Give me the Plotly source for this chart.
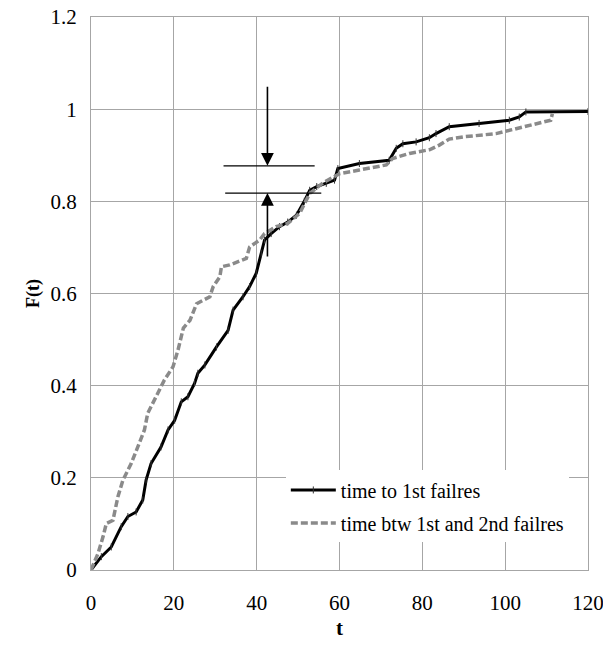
import plotly.graph_objects as go

# time to 1st failures (empirical CDF)
t1 = [0, 2.5, 4.9, 7.3, 8.9, 10.9, 12.5, 13.3, 14.5, 16.9, 18.6, 20.2, 21.8, 23.4, 25.0, 25.8,
      27.5, 30.3, 33.1, 34.3, 36.7, 38.3, 39.9, 41.1, 41.9, 43.5, 45.5, 47.5, 49.6, 51.5, 52.8,
      54.5, 56.8, 58.8, 59.6, 64.8, 72.0, 73.7, 75.3, 78.5, 81.7, 83.3, 86.5, 93.7, 101.0, 103.4,
      105.0, 120.0]
F1 = [0, 0.029, 0.05, 0.094, 0.116, 0.126, 0.152, 0.195, 0.231, 0.267, 0.304, 0.325, 0.365, 0.376,
      0.405, 0.427, 0.445, 0.484, 0.52, 0.564, 0.593, 0.615, 0.644, 0.687, 0.716, 0.73, 0.745, 0.755,
      0.77, 0.8, 0.824, 0.832, 0.839, 0.846, 0.871, 0.882, 0.889, 0.915, 0.925, 0.929, 0.938, 0.947,
      0.962, 0.969, 0.976, 0.983, 0.994, 0.995]

# time between 1st and 2nd failures
t2 = [0, 1.7, 2.9, 3.7, 5.3, 6.5, 7.7, 9.7, 11.3, 12.9, 13.7, 16.1, 17.7, 19.8, 21.0, 22.3, 23.9,
      25.5, 28.7, 29.5, 31.1, 31.5, 33.5, 37.5, 38.3, 40.7, 41.9, 44.7, 47.5, 50.4, 52.8, 56.0, 60.0,
      64.8, 71.3, 72.8, 76.9, 81.7, 84.1, 86.5, 90.0, 97.8, 102.6, 108.2, 111.0, 111.4]
F2 = [0, 0.036, 0.072, 0.101, 0.108, 0.159, 0.195, 0.231, 0.267, 0.304, 0.34, 0.383, 0.412, 0.441,
      0.477, 0.525, 0.542, 0.578, 0.593, 0.615, 0.636, 0.658, 0.662, 0.676, 0.701, 0.716, 0.73, 0.745,
      0.752, 0.774, 0.817, 0.84, 0.86, 0.868, 0.879, 0.893, 0.904, 0.912, 0.922, 0.935, 0.94, 0.947,
      0.958, 0.969, 0.976, 0.99]

x_ticks = [0, 20, 40, 60, 80, 100, 120]
y_ticks = [0, 0.2, 0.4, 0.6, 0.8, 1.0, 1.2]
y_labels = ["0", "0.2", "0.4", "0.6", "0.8", "1", "1.2"]

names = ["time to 1st failres", "time btw 1st and 2nd failres"]

# annotation marks (gap between curves)
gap_x = 42.6
gap_hi, gap_lo = 0.877, 0.818

font = "Times New Roman"
grid = "#a6a6a6"

fig = go.Figure()
fig.add_trace(go.Scatter(
    x=t1, y=F1, name=names[0], mode="lines+markers", legendgroup="a",
    line=dict(color="black", width=3),
    marker=dict(symbol="line-ns", size=5, line=dict(color="#333333", width=1)),
))
fig.add_trace(go.Scatter(
    x=t2, y=F2, name=names[1], mode="lines", legendgroup="b",
    line=dict(color="#8a8a8a", width=3.5, dash="7px,3px"),
))

# horizontal reference lines
fig.add_shape(type="line", xref="x", yref="y", x0=32.0, x1=54.0, y0=gap_hi, y1=gap_hi,
              line=dict(color="black", width=1.3))
fig.add_shape(type="line", xref="x", yref="y", x0=32.4, x1=55.6, y0=gap_lo, y1=gap_lo,
              line=dict(color="black", width=1.3))
# arrows
fig.add_annotation(x=gap_x, y=gap_hi, ax=gap_x, ay=1.052, xref="x", yref="y", axref="x", ayref="y",
                   showarrow=True, arrowhead=2, arrowsize=1.6, arrowwidth=1.6, arrowcolor="black", text="")
fig.add_annotation(x=gap_x, y=gap_lo, ax=gap_x, ay=0.677, xref="x", yref="y", axref="x", ayref="y",
                   showarrow=True, arrowhead=2, arrowsize=1.6, arrowwidth=1.6, arrowcolor="black", text="")

fig.update_layout(
    width=603, height=656,
    margin=dict(l=91, r=15, t=17, b=86, autoexpand=False),
    paper_bgcolor="white", plot_bgcolor="white",
    font=dict(family=font, size=21, color="black"),
    showlegend=True,
    legend=dict(x=0.392, y=0.18, xanchor="left", yanchor="top", bgcolor="white",
                font=dict(family=font, size=20, color="black"), itemwidth=45,
                tracegroupgap=4),
    xaxis=dict(range=[0, 120], tickvals=x_ticks, showgrid=True, gridcolor=grid, gridwidth=1,
               showline=True, linecolor=grid, mirror=True, zeroline=False, ticks="",
               automargin=False, ticklabelstandoff=14, ticklabeloverflow="allow",
               tickfont=dict(family=font, size=21),
               title=dict(text="<b>t</b>", font=dict(family=font, size=21), standoff=6)),
    yaxis=dict(range=[0, 1.2], tickvals=y_ticks, ticktext=y_labels, showgrid=True, gridcolor=grid,
               gridwidth=1, showline=True, linecolor=grid, mirror=True, zeroline=False, ticks="",
               automargin=False, ticklabelstandoff=9, ticklabeloverflow="allow",
               tickfont=dict(family=font, size=21),
               title=dict(text="<b>F(t)</b>", font=dict(family=font, size=18), standoff=6)),
)

fig.write_html("out.html", config={"displayModeBar": False},
               post_script="document.body.style.margin='0';")
